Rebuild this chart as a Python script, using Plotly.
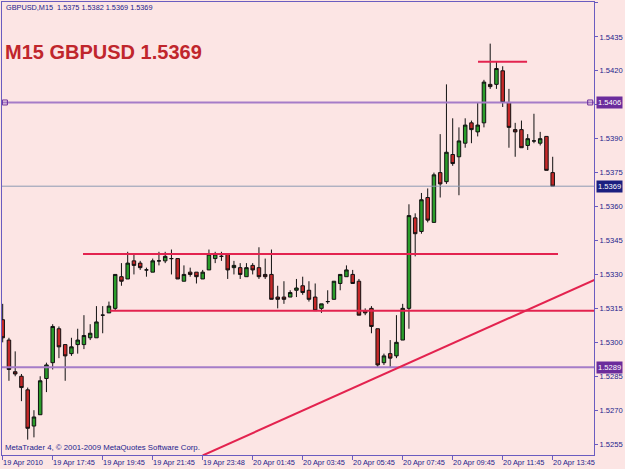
import plotly.graph_objects as go

# ---------------- data ----------------
bars = list(range(89))
opens = [1.5310, 1.5301, 1.5287, 1.5285, 1.5279, 1.5263, 1.5268, 1.5284, 1.5291, 1.5306,
         1.5299, 1.5295, 1.5299, 1.5299, 1.5302, 1.5302, 1.5312, 1.5313, 1.5315, 1.5329,
         1.5328, 1.5336, 1.5335, 1.5332, 1.5331, 1.5336, 1.5336, 1.5337, 1.5337, 1.5327,
         1.5331, 1.5331, 1.5328, 1.5332, 1.5337, 1.5338, 1.5339, 1.5333, 1.5333, 1.5329,
         1.5334, 1.5333, 1.5330, 1.5330, 1.5320, 1.5320, 1.5320, 1.5323, 1.5325, 1.5323,
         1.5320, 1.5315, 1.5318, 1.5319, 1.5326, 1.5329, 1.5330, 1.5327, 1.5314, 1.5315,
         1.5306, 1.5291, 1.5295, 1.5294, 1.5301, 1.5315, 1.5355, 1.5349, 1.5364, 1.5353,
         1.5375, 1.5371, 1.5383, 1.5382, 1.5388, 1.5397, 1.5393, 1.5397, 1.5414, 1.5414,
         1.5420, 1.5406, 1.5394, 1.5394, 1.5387, 1.5389, 1.5388, 1.5391, 1.5375]
highs = [1.5317, 1.5302, 1.5296, 1.5286, 1.5280, 1.5270, 1.5285, 1.5291, 1.5308, 1.5307,
         1.5299, 1.5302, 1.5306, 1.5312, 1.5308, 1.5316, 1.5316, 1.5318, 1.5330, 1.5335,
         1.5340, 1.5339, 1.5336, 1.5333, 1.5337, 1.5340, 1.5340, 1.5341, 1.5337, 1.5334,
         1.5333, 1.5331, 1.5332, 1.5341, 1.5340, 1.5340, 1.5339, 1.5336, 1.5335, 1.5335,
         1.5335, 1.5342, 1.5337, 1.5341, 1.5325, 1.5327, 1.5323, 1.5328, 1.5329, 1.5327,
         1.5326, 1.5317, 1.5323, 1.5327, 1.5330, 1.5334, 1.5332, 1.5328, 1.5315, 1.5316,
         1.5306, 1.5295, 1.5301, 1.5312, 1.5317, 1.5361, 1.5357, 1.5366, 1.5368, 1.5375,
         1.5392, 1.5414, 1.5399, 1.5395, 1.5399, 1.5398, 1.5406, 1.5416, 1.5432, 1.5424,
         1.5422, 1.5412, 1.5397, 1.5398, 1.5392, 1.5401, 1.5393, 1.5391, 1.5382]
lows = [1.5300, 1.5283, 1.5285, 1.5274, 1.5257, 1.5258, 1.5268, 1.5278, 1.5288, 1.5293,
        1.5283, 1.5294, 1.5295, 1.5297, 1.5301, 1.5302, 1.5304, 1.5313, 1.5314, 1.5325,
        1.5328, 1.5330, 1.5332, 1.5329, 1.5331, 1.5334, 1.5335, 1.5330, 1.5328, 1.5327,
        1.5329, 1.5326, 1.5328, 1.5332, 1.5335, 1.5336, 1.5328, 1.5330, 1.5328, 1.5329,
        1.5330, 1.5328, 1.5328, 1.5319, 1.5315, 1.5317, 1.5320, 1.5320, 1.5321, 1.5318,
        1.5314, 1.5313, 1.5317, 1.5319, 1.5323, 1.5329, 1.5326, 1.5312, 1.5312, 1.5304,
        1.5289, 1.5290, 1.5289, 1.5293, 1.5301, 1.5306, 1.5338, 1.5348, 1.5353, 1.5353,
        1.5364, 1.5370, 1.5378, 1.5365, 1.5386, 1.5388, 1.5391, 1.5395, 1.5412, 1.5412,
        1.5404, 1.5386, 1.5382, 1.5386, 1.5385, 1.5388, 1.5387, 1.5376, 1.5369]
closes = [1.5302, 1.5288, 1.5286, 1.5280, 1.5262, 1.5267, 1.5283, 1.5290, 1.5307, 1.5298,
          1.5294, 1.5298, 1.5301, 1.5303, 1.5304, 1.5309, 1.5312, 1.5316, 1.5330, 1.5327,
          1.5335, 1.5334, 1.5333, 1.5332, 1.5336, 1.5336, 1.5338, 1.5337, 1.5328, 1.5330,
          1.5330, 1.5329, 1.5331, 1.5339, 1.5339, 1.5338, 1.5332, 1.5334, 1.5330, 1.5333,
          1.5332, 1.5329, 1.5329, 1.5319, 1.5319, 1.5319, 1.5322, 1.5324, 1.5322, 1.5319,
          1.5314, 1.5317, 1.5318, 1.5327, 1.5330, 1.5332, 1.5326, 1.5312, 1.5313, 1.5307,
          1.5290, 1.5294, 1.5293, 1.5300, 1.5315, 1.5356, 1.5348, 1.5363, 1.5354, 1.5374,
          1.5370, 1.5384, 1.5379, 1.5389, 1.5396, 1.5394, 1.5396, 1.5415, 1.5413, 1.5421,
          1.5406, 1.5395, 1.5393, 1.5386, 1.5390, 1.5389, 1.5390, 1.5376, 1.5369]

x_tick_pos = [-0.1, 7.9, 15.9, 23.9, 31.9, 39.9, 47.9, 55.9, 63.9, 71.9, 79.9, 87.9]
x_tick_labels = ["19 Apr 2010", "19 Apr 17:45", "19 Apr 19:45", "19 Apr 21:45", "19 Apr 23:48",
                 "20 Apr 01:45", "20 Apr 03:45", "20 Apr 05:45", "20 Apr 07:45", "20 Apr 09:45",
                 "20 Apr 11:45", "20 Apr 13:45"]
y_tick_vals = [1.5255, 1.5270, 1.5285, 1.5300, 1.5315, 1.5330, 1.5345, 1.5360, 1.5375,
               1.5390, 1.5405, 1.5420, 1.5435, 1.5450]
# the 1.5405 label sits under the 1.5406 price box in the reference
y_tick_labels = ["1.5255", "1.5270", "1.5285", "1.5300", "1.5315", "1.5330", "1.5345", "1.5360",
                 "1.5375", "1.5390", "", "1.5420", "1.5435", "1.5450"]

# drawn objects (levels / trend line)
resist_x = [12.85, 88.85]
resist_y = [1.5339, 1.5339]
support_x = [17.2, 96]
support_y = [1.5314, 1.5314]
top_x = [76.05, 83.9]
top_y = [1.5424, 1.5424]
trend_x = [32.0, 95.0]
trend_y = [1.5250, 1.5328]
purple_levels = [1.5406, 1.5289]
last_price = 1.5369

x_range = [-0.112, 94.61]
y_range = [1.52502, 1.54504]

BG = "#FCE5E4"
TXT = "#23238C"
RED = "#E3234F"
PURPLE_LINE = "#A57CC8"
PURPLE_BOX = "#6B2C9C"
NAVY_BOX = "#1B1F80"
AXIS = "#6A5CC0"
FONT = "Liberation Sans, Arial, sans-serif"

fig = go.Figure()

# horizontal level lines
for lv in purple_levels:
    fig.add_trace(go.Scatter(x=[x_range[0] - 2, x_range[1] + 2], y=[lv, lv], mode="lines",
                             line=dict(color=PURPLE_LINE, width=2), hoverinfo="skip"))
fig.add_trace(go.Scatter(x=[x_range[0] - 2, x_range[1] + 2], y=[last_price, last_price], mode="lines",
                         line=dict(color="#8D9AB2", width=1), hoverinfo="skip"))

# red drawn lines
for xs, ys in [(resist_x, resist_y), (support_x, support_y), (top_x, top_y), (trend_x, trend_y)]:
    fig.add_trace(go.Scatter(x=xs, y=ys, mode="lines", line=dict(color=RED, width=2),
                             hoverinfo="skip"))

# candles
fig.add_trace(go.Candlestick(
    x=bars, open=opens, high=highs, low=lows, close=closes,
    increasing=dict(fillcolor="#2A9D2A", line=dict(color="#111111", width=1)),
    decreasing=dict(fillcolor="#C62828", line=dict(color="#111111", width=1)),
    whiskerwidth=0, hoverinfo="skip"))

# endpoint squares of the selected 1.5406 line
fig.add_trace(go.Scatter(x=[0.35, 94.0], y=[purple_levels[0], purple_levels[0]], mode="markers",
                         marker=dict(symbol="square-open", size=5, color=PURPLE_BOX,
                                     line=dict(width=1)),
                         hoverinfo="skip", cliponaxis=False))

annotations = []
# price label boxes on the right axis
for lv, col in [(purple_levels[0], PURPLE_BOX), (last_price, NAVY_BOX), (purple_levels[1], PURPLE_BOX)]:
    annotations.append(dict(xref="paper", yref="y", x=1.004, y=lv, text="%.4f" % lv,
                            showarrow=False, xanchor="left", yanchor="middle",
                            bgcolor=col, borderpad=1,
                            font=dict(family=FONT, size=7.6, color="white")))

annotations.append(dict(xref="paper", yref="paper", x=0.004, y=0.9868,
                        text="GBPUSD,M15  1.5375 1.5382 1.5369 1.5369", showarrow=False,
                        xanchor="left", yanchor="middle",
                        font=dict(family=FONT, size=7.3, color=TXT)))
annotations.append(dict(xref="paper", yref="paper", x=0.002, y=0.889,
                        text="<b>M15 GBPUSD 1.5369</b>", showarrow=False,
                        xanchor="left", yanchor="middle",
                        font=dict(family=FONT, size=20, color="#C0262C")))
annotations.append(dict(xref="paper", yref="paper", x=0.002, y=0.017,
                        text="MetaTrader 4, © 2001-2009 MetaQuotes Software Corp.", showarrow=False,
                        xanchor="left", yanchor="middle",
                        font=dict(family=FONT, size=7.8, color=TXT)))

fig.update_layout(
    width=625, height=469,
    margin=dict(l=2, r=31, t=2, b=14, autoexpand=False),
    paper_bgcolor=BG, plot_bgcolor=BG,
    showlegend=False, hovermode=False,
    boxgap=0.2,
    annotations=annotations,
    xaxis=dict(range=x_range, rangeslider=dict(visible=False), showgrid=False, zeroline=False,
               tickmode="array", tickvals=x_tick_pos, ticktext=x_tick_labels,
               ticks="outside", ticklen=4, tickcolor=AXIS, tickwidth=1,
               ticklabelposition="outside right", tickangle=0, automargin=False,
               tickfont=dict(family=FONT, size=7.4, color=TXT),
               showline=True, linecolor=AXIS, linewidth=1, mirror=True),
    yaxis=dict(range=y_range, side="right", showgrid=False, zeroline=False, automargin=False,
               tickmode="array", tickvals=y_tick_vals, ticktext=y_tick_labels,
               ticks="outside", ticklen=3, tickcolor=AXIS, tickwidth=1,
               tickfont=dict(family=FONT, size=7.6, color=TXT),
               showline=True, linecolor=AXIS, linewidth=1, mirror=True),
)

fig.write_html("out.html")
